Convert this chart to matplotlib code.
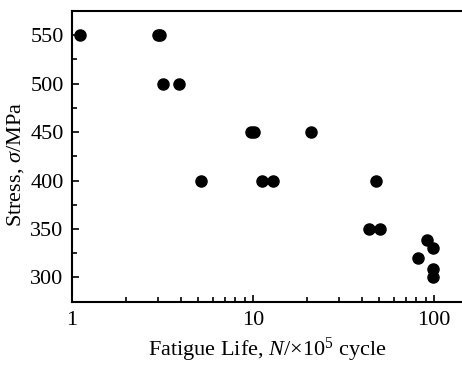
import numpy as np
import matplotlib
matplotlib.use("Agg")
from matplotlib import pyplot as plt
import matplotlib as mpl
from matplotlib.ticker import LogLocator, MultipleLocator, FixedLocator, NullFormatter

mpl.rcParams.update(
    {
        "font.family": "Liberation Serif",
        "mathtext.fontset": "custom",
        "mathtext.rm": "Liberation Serif",
        "mathtext.it": "Liberation Serif:italic",
        "mathtext.bf": "Liberation Serif:bold",
    }
)

# fatigue life (x 1e5 cycles) and stress (MPa)
life = [1.11, 2.98, 3.06, 3.19, 3.89, 5.14, 9.7, 10.1, 20.9,
        11.2, 12.9, 47.8, 43.7, 50.5, 91.2, 98.7, 81.9, 98.7, 98.7]
stress = [550, 550, 550, 500, 500, 400, 450, 450, 450,
          400, 400, 400, 350, 350, 339, 330, 320, 309, 300]

x_ticks = [1, 10, 100]
x_ticklabels = ["1", "10", "100"]
y_ticks = [300, 350, 400, 450, 500, 550]

fig = plt.figure(figsize=(4.62, 3.67), dpi=100)
ax = fig.add_axes([0.1558, 0.178, 0.8442, 0.792])

ax.plot(life, stress, "o", color="black", markersize=8, linestyle="none")

ax.set_xscale("log")
ax.set_xlim(1, 143)
ax.set_ylim(275, 575)

ax.xaxis.set_major_locator(FixedLocator(x_ticks))
ax.set_xticklabels(x_ticklabels)
ax.xaxis.set_minor_locator(LogLocator(base=10, subs=np.arange(2, 10)))
ax.xaxis.set_minor_formatter(NullFormatter())
ax.yaxis.set_major_locator(FixedLocator(y_ticks))
ax.yaxis.set_minor_locator(MultipleLocator(25))

ax.tick_params(which="both", direction="in", top=False, right=False,
               width=1.2, labelsize=16, colors="black")
ax.tick_params(which="major", length=5)
ax.tick_params(axis="y", which="major", pad=6)
ax.tick_params(axis="x", which="major", pad=7)
ax.tick_params(which="minor", length=3.5)

for side in ["left", "bottom", "top"]:
    ax.spines[side].set_linewidth(1.5)
ax.spines["right"].set_visible(False)

ax.set_xlabel(r"Fatigue Life, $N$/×10$^5$ cycle", fontsize=16, labelpad=4)
ax.set_ylabel(r"Stress, $\sigma$/MPa", fontsize=16)
ax.yaxis.set_label_coords(-0.118, 0.472)

fig.savefig("out.png", dpi=100)
plt.close(fig)
